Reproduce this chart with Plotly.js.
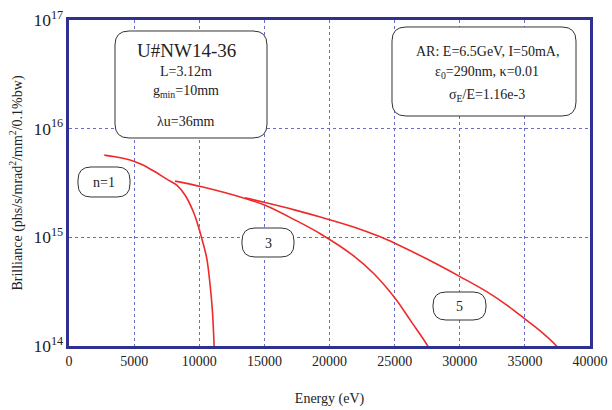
<!DOCTYPE html>
<html>
<head>
<meta charset="utf-8">
<script src="https://cdn.plot.ly/plotly-3.0.1.min.js"></script>
<style>html,body{margin:0;padding:0;background:#fff;}#chart{width:612px;height:410px;}</style>
</head>
<body>
<div id="chart"></div>
<script>
// Harmonic n=1
const energy1 = [2710, 3535, 4560, 5585, 6610, 7505, 8275, 8915, 9555, 9940, 10195, 10580, 10835, 11015, 11140, 11160];
const brill1  = [5.71e15, 5.51e15, 5.21e15, 4.69e15, 4.01e15, 3.43e15, 3.02e15, 2.44e15, 1.71e15, 1.25e15, 9.75e14, 6.38e14, 3.62e14, 2.06e14, 1.02e14, 0.9e14];
// Harmonic n=3
const energy3 = [8145, 10195, 13525, 15060, 17370, 19290, 21850, 23390, 25050, 26200, 27540, 27700];
const brill3  = [3.29e15, 2.92e15, 2.28e15, 1.97e15, 1.44e15, 1.08e15, 6.76e14, 4.65e14, 2.74e14, 1.73e14, 1.0e14, 0.9e14];
// Harmonic n=5
const energy5 = [13525, 15060, 17370, 19290, 21850, 23900, 25050, 27490, 30050, 32100, 33640, 35040, 36330, 37430, 37600];
const brill5  = [2.31e15, 2.09e15, 1.78e15, 1.54e15, 1.245e15, 1.01e15, 8.77e14, 6.31e14, 4.33e14, 3.15e14, 2.37e14, 1.76e14, 1.33e14, 1.0e14, 0.92e14];

const xTicks = [0, 5000, 10000, 15000, 20000, 25000, 30000, 35000, 40000];
const harmonicLabels = ["n=1", "3", "5"];

const L = 69, R = 22, T = 20, B = 64, W = 612, H = 410;
const pw = W - L - R, ph = H - T - B;
function px(x){ return (x - L) / pw; }
function py(y){ return (H - B - y) / ph; }
function roundRect(x0, y0, x1, y1, r){
  const X0 = px(x0), X1 = px(x1), Y0 = py(y0), Y1 = py(y1);
  const rx = r / pw, ry = r / ph;
  const p = [
    'M', X0 + rx, Y0,
    'L', X1 - rx, Y0,
    'Q', X1, Y0, X1, Y0 - ry,
    'L', X1, Y1 + ry,
    'Q', X1, Y1, X1 - rx, Y1,
    'L', X0 + rx, Y1,
    'Q', X0, Y1, X0, Y1 + ry,
    'L', X0, Y0 - ry,
    'Q', X0, Y0, X0 + rx, Y0, 'Z'
  ];
  let s = '';
  for (let i = 0; i < p.length; i++){
    s += (typeof p[i] === 'number' ? p[i].toFixed(5) : p[i]) + ' ';
  }
  return {type:'path', xref:'paper', yref:'paper', path:s.trim(),
          line:{color:'#333333', width:1}, fillcolor:'rgba(255,255,255,1)', layer:'above'};
}

const red = '#ee2a2a';
const lineStyle = {color:red, width:1.6, shape:'spline', smoothing:1};
const traces = [
  {x: energy1, y: brill1, mode:'lines', line:lineStyle, hoverinfo:'skip'},
  {x: energy3, y: brill3, mode:'lines', line:lineStyle, hoverinfo:'skip'},
  {x: energy5, y: brill5, mode:'lines', line:lineStyle, hoverinfo:'skip'}
];

const font = 'Liberation Serif, Times New Roman, serif';
function ann(x, y, text, size){
  return {xref:'paper', yref:'paper', x:px(x), y:py(y), xanchor:'center', yanchor:'middle',
          text:text, showarrow:false, font:{family:font, size:size, color:'#222'}};
}

const layout = {
  width: W, height: H,
  margin: {l:L, r:R, t:T, b:B, pad:0},
  paper_bgcolor:'#fff', plot_bgcolor:'#fff',
  showlegend:false,
  font:{family:font, size:14, color:'#222'},
  xaxis:{
    range:[0, 40000], tickvals:xTicks, ticktext:xTicks.map(String),
    showline:true, linecolor:'#2e3192', linewidth:3, mirror:true,
    showgrid:true, gridcolor:'#6b6bc8', griddash:'dot', gridwidth:1,
    zeroline:false, ticks:'', tickfont:{family:font, size:14, color:'#222'},
    title:{text:'Energy (eV)', font:{family:font, size:14, color:'#222'}, standoff:26}
  },
  yaxis:{
    type:'log', range:[14, 17], dtick:1, exponentformat:'power',
    showline:true, linecolor:'#2e3192', linewidth:3, mirror:true,
    showgrid:true, gridcolor:'#6b6bc8', griddash:'dot', gridwidth:1,
    zeroline:false, ticks:'', tickfont:{family:font, size:14, color:'#222'},
    title:{text:'Brilliance (phs/s/mrad<sup>2</sup>/mm<sup>2</sup>/0.1%bw)', font:{family:font, size:14, color:'#222'}, standoff:8}
  },
  shapes:[
    roundRect(115, 31, 267, 138, 14),
    roundRect(392, 27, 576, 116, 14),
    roundRect(78, 167, 130, 197, 13),
    roundRect(242, 228, 294, 257, 13),
    roundRect(433, 292, 486, 320, 13)
  ],
  annotations:[
    ann(186, 50, 'U#NW14-36', 19),
    ann(186, 72, 'L=3.12m', 14),
    ann(186, 92, 'g<sub>min</sub>=10mm', 14),
    ann(186, 121, 'λu=36mm', 14),
    ann(487, 51, 'AR: E=6.5GeV, I=50mA,', 14),
    ann(487, 73, 'ε<sub>0</sub>=290nm, κ=0.01', 14),
    ann(487, 95, 'σ<sub>E</sub>/E=1.16e-3', 14),
    ann(104, 182, harmonicLabels[0], 14),
    ann(268, 243, harmonicLabels[1], 14),
    ann(459, 306, harmonicLabels[2], 14)
  ]
};

Plotly.newPlot('chart', traces, layout, {staticPlot:true, displayModeBar:false});
</script>
</body>
</html>
